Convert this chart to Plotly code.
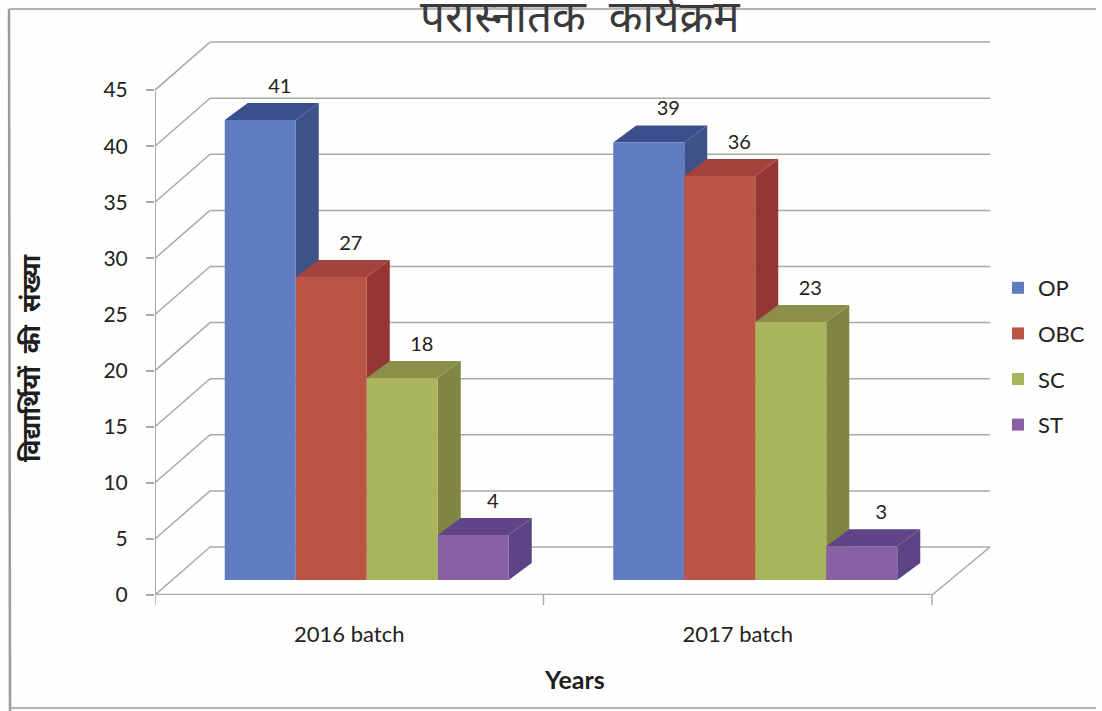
import plotly.graph_objects as go

categories = ["2016 batch", "2017 batch"]
series_names = ["OP", "OBC", "SC", "ST"]
op_values = [41, 39]
obc_values = [27, 36]
sc_values = [18, 23]
st_values = [4, 3]
y_ticks = [0, 5, 10, 15, 20, 25, 30, 35, 40, 45]
title_text = "परास्नातक  कार्यक्रम"
y_title_text = "विद्यार्थियों  की  संख्या"
x_title_text = "Years"

front_colors = ["#5f7cc0", "#bc5347", "#a9b55a", "#8a5fa3"]
side_colors = ["#3f5189", "#943733", "#7f8642", "#5c4385"]
top_colors = ["#3b4f8c", "#a3433d", "#8b8f4a", "#5f4488"]

W, H = 1102, 711
L, R, T, B = 155, 990, 40, 595
UX = 388.5   # px per category
UY = 11.22   # px per y unit
x_max = (R - L) / UX
y_max = (B - T) / UY
WALL_DX, WALL_DY = 55 / UX, 48 / UY
PLANE_DX, PLANE_DY = 17.5 / UX, 15 / UY
DEPTH_DX, DEPTH_DY = 23 / UX, 17 / UY
BAR_W = 71 / UX
GRID = "#a9a9a9"
TEXT = "#222222"
FONT = "Lato, 'Open Sans', sans-serif"
DEVA = "'Noto Sans', Lato, sans-serif"


def xp(px):
    return (px - L) / (R - L)


def yp(py):
    return (B - py) / (B - T)


def poly(points, fill):
    path = "M" + "L".join(f"{x},{y}" for x, y in points) + "Z"
    return dict(type="path", path=path, xref="x", yref="y", fillcolor=fill,
                line=dict(width=0), layer="below")


def seg(x0, y0, x1, y1, color=GRID, width=1.5):
    return dict(type="line", x0=x0, y0=y0, x1=x1, y1=y1, xref="x", yref="y",
                line=dict(color=color, width=width), layer="below")


shapes = []
for v in y_ticks:
    shapes.append(seg(0, v, WALL_DX, v + WALL_DY))
    shapes.append(seg(WALL_DX, v + WALL_DY, x_max, v + WALL_DY))
shapes.append(seg(2, 0, x_max, WALL_DY))
shapes.append(seg(0, 0, 0, max(y_ticks), width=2))
shapes.append(seg(0, 0, 2, 0, width=2.5))
for xt in (0, 1, 2):
    shapes.append(dict(type="line", xref="x", yref="paper", x0=xt, x1=xt,
                       y0=0, y1=yp(B + 10), line=dict(color=GRID, width=1.5), layer="below"))

series = [op_values, obc_values, sc_values, st_values]
centers = [i + 0.5 + PLANE_DX for i in range(len(categories))]
label_x, label_y, label_t = [], [], []
for s, vals in enumerate(series):
    for c, v in zip(centers, vals):
        x0 = c + (s - 2) * BAR_W
        x1 = x0 + BAR_W
        y0, y1 = PLANE_DY, PLANE_DY + v
        shapes.append(poly([(x1, y0), (x1 + DEPTH_DX, y0 + DEPTH_DY),
                            (x1 + DEPTH_DX, y1 + DEPTH_DY), (x1, y1)], side_colors[s]))
        shapes.append(poly([(x0, y1), (x0 + DEPTH_DX, y1 + DEPTH_DY),
                            (x1 + DEPTH_DX, y1 + DEPTH_DY), (x1, y1)], top_colors[s]))
        label_x.append((x0 + x1) / 2 + 19.5 / UX)
        label_y.append(y1 + DEPTH_DY + 15 / UY)
        label_t.append(str(v))

frame = "#9b9b9b"
for x0, y0, x1, y1, w in [(9, 9, 1096, 9, 1.5), (9, 9, 10, 711, 2.5), (9, 708, 1096, 708, 1.5)]:
    shapes.append(dict(type="line", xref="paper", yref="paper",
                       x0=xp(x0), x1=xp(x1), y0=yp(y0), y1=yp(y1),
                       line=dict(color=frame, width=w), layer="below"))

fig = go.Figure()
for s, (name, vals) in enumerate(zip(series_names, series)):
    fig.add_trace(go.Bar(name=name, x=centers, y=vals, base=PLANE_DY,
                         marker=dict(color=front_colors[s], line=dict(width=0)),
                         legendgroup=name))
fig.add_trace(go.Scatter(x=label_x, y=label_y, text=label_t, mode="text",
                         textposition="middle center", showlegend=False, cliponaxis=False,
                         textfont=dict(family=FONT, size=20, color=TEXT)))

fig.update_layout(
    width=W, height=H,
    margin=dict(l=L, r=W - R, t=T, b=H - B, autoexpand=False),
    paper_bgcolor="#fefefc", plot_bgcolor="rgba(0,0,0,0)",
    barmode="group", bargap=1 - 4 * BAR_W, bargroupgap=0,
    shapes=shapes,
    font=dict(family=FONT, color=TEXT),
    legend=dict(x=xp(998), y=yp(267), xanchor="left", yanchor="top",
                tracegroupgap=14, bgcolor="rgba(0,0,0,0)",
                font=dict(size=22, family=FONT, color=TEXT)),
    xaxis=dict(range=[0, x_max], tickvals=[0.5, 1.5], ticktext=categories,
               showgrid=False, zeroline=False, showline=False, ticks="",
               ticklabelstandoff=24, tickfont=dict(size=22, family=FONT, color=TEXT)),
    yaxis=dict(range=[0, y_max], tickvals=y_ticks, showgrid=False, zeroline=False,
               showline=False, ticks="outside", ticklen=8, tickcolor=GRID, tickwidth=1.5,
               ticklabelstandoff=14, tickfont=dict(size=21, family=FONT, color=TEXT)),
    annotations=[
        dict(text=title_text, xref="paper", yref="paper", x=xp(580), y=yp(15),
             showarrow=False, yanchor="middle", xanchor="center",
             font=dict(size=44, family=DEVA, color="#3a3a3a")),
        dict(text="<b>" + y_title_text + "</b>", xref="paper", yref="paper", x=xp(30), y=yp(358),
             showarrow=False, textangle=-90, xanchor="center", yanchor="middle",
             font=dict(size=25, family=DEVA, color="#1e1e1e")),
        dict(text="<b>" + x_title_text + "</b>", xref="paper", yref="paper", x=xp(574), y=yp(679),
             showarrow=False, xanchor="center", yanchor="middle",
             font=dict(size=25, family=FONT, color="#1e1e1e")),
    ],
)
fig.write_html("out.html", config={"displayModeBar": False},
               post_script="document.body.style.margin='0';")
